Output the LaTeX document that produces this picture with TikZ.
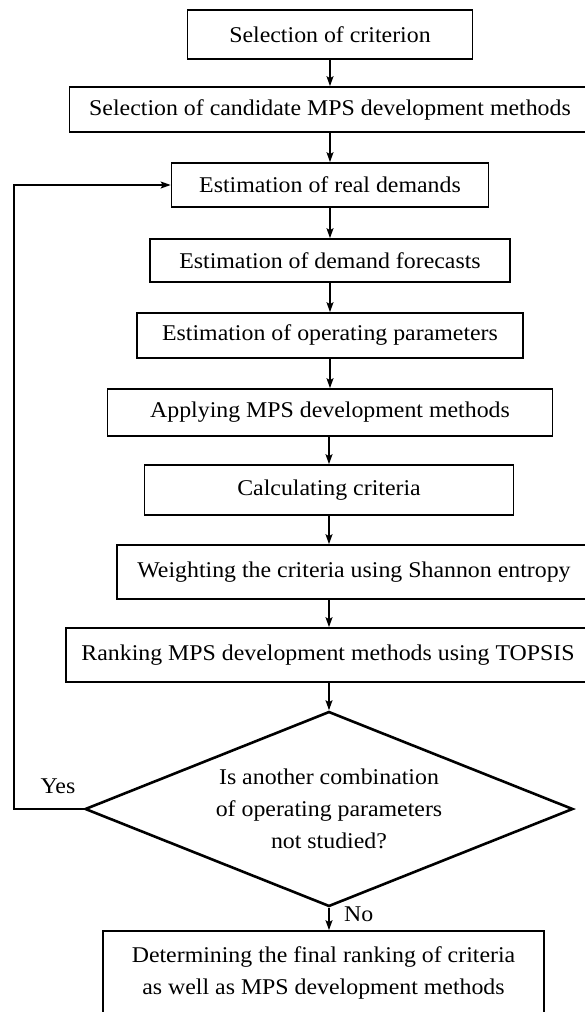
\documentclass[tikz,border=0pt]{standalone}
\usepackage{fontspec}
\setmainfont{Liberation Serif}[FakeStretch=1.06]
\usepackage{tikz}
\usetikzlibrary{shapes.geometric,arrows.meta}
\tikzset{
  box/.style={draw=black, line width=1.7pt, inner sep=0pt, align=center, font=\fontsize{22.5}{32}\selectfont},
  dec/.style={diamond, draw=black, line width=2.6pt, inner sep=0pt, shape aspect=2.5, align=center,
    font=\fontsize{22.5}{32}\selectfont, minimum width=488pt, minimum height=195pt},
  arr/.style={draw=black, line width=1.3pt, -{Stealth[length=10pt,width=7pt,inset=2pt]}},
  lab/.style={font=\fontsize{22.5}{27}\selectfont, inner sep=0pt},
}
\begin{document}
\begin{tikzpicture}[x=1pt,y=-1pt]
  \useasboundingbox (0,0) rectangle (584,1012);
  % process boxes, top to bottom
  \node[box, minimum width=285pt, minimum height=49pt] (crit) at (330,34.5) {Selection of criterion};
  \node[box, minimum width=521pt, minimum height=45pt] (cand) at (330,109.5) {Selection of candidate MPS development methods};
  \node[box, minimum width=317pt, minimum height=44pt] (real) at (330,185) {Estimation of real demands};
  \node[box, minimum width=360pt, minimum height=43pt] (fore) at (330,260.5) {Estimation of demand forecasts};
  \node[box, minimum width=386pt, minimum height=45pt] (oper) at (330,335.5) {Estimation of operating parameters};
  \node[box, minimum width=445pt, minimum height=47pt] (apply) at (330,412.5) {Applying MPS development methods};
  \node[box, minimum width=369pt, minimum height=50pt] (calc) at (329,490) {Calculating criteria};
  \node[box, minimum width=474pt, minimum height=54pt] (weight) at (354,572) {Weighting the criteria using Shannon entropy};
  \node[box, minimum width=524pt, minimum height=54pt] (rank) at (328,655) {Ranking MPS development methods using TOPSIS};
  \node[dec] (check) at (329,809) {Is another combination\\of operating parameters\\not studied?};
  \node[box, minimum width=441pt, minimum height=84pt] (final) at (323.5,973) {Determining the final ranking of criteria\\as well as MPS development methods};
  \coordinate (back) at (14,809);

  % connectors
  \draw[arr] (crit.south) -- (cand.north);
  \draw[arr] (cand.south) -- (real.north);
  \draw[arr] (real.south) -- (fore.north);
  \draw[arr] (fore.south) -- (oper.north);
  \draw[arr] (oper.south) -- (apply.north);
  \draw[arr] (apply.south -| calc.south) -- (calc.north);
  \draw[arr] (calc.south) -- (calc.south |- weight.north);
  \draw[arr] (weight.south -| calc.south) -- (calc.south |- rank.north);
  \draw[arr] (rank.south -| check.north) -- (check.north);
  \draw[arr] (check.south) -- (check.south |- final.north);
  \draw[arr] (check.west) -- (back) |- (real.west);

  \node[lab] (yes) at (58,786) {Yes};
  \node[lab, anchor=west] (no) at (344,914) {No};
\end{tikzpicture}
\end{document}
